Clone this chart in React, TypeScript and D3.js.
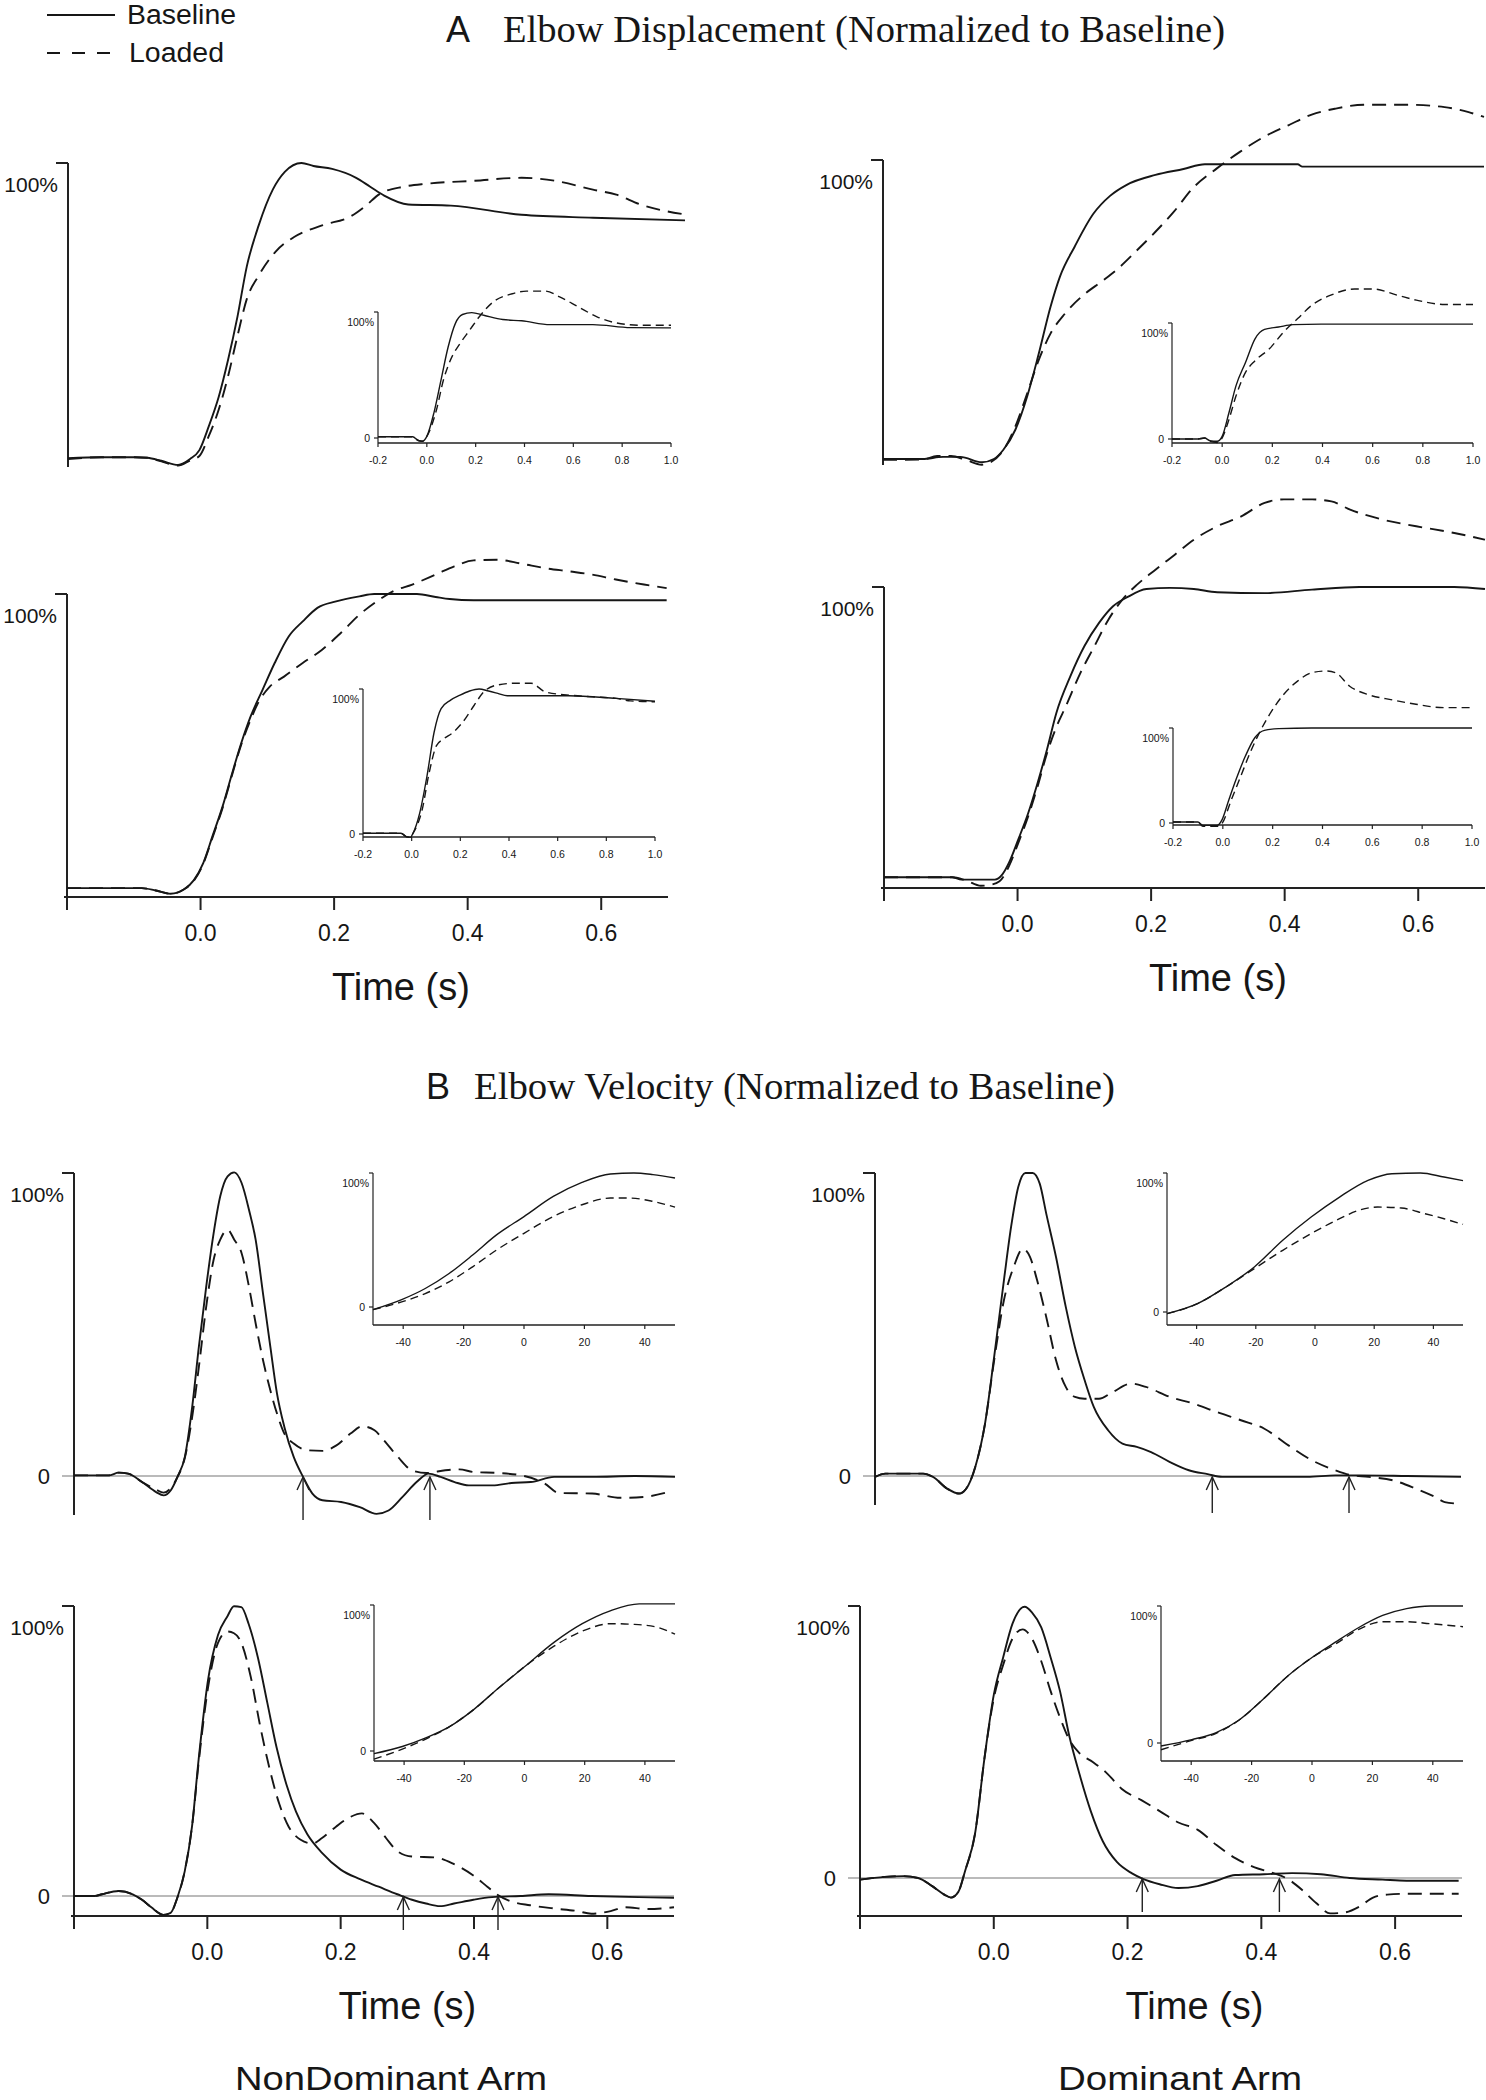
import React from 'react';
import * as d3 from 'd3';

type P = [number, number];

// ---------------- DATA ----------------
// Panel A, main (time s, fraction of baseline peak)
const TL_BASE: P[] = [[-0.2, 0.003], [-0.15, 0.006], [-0.1, 0.006], [-0.081, 0.004], [-0.06, -0.006], [-0.035, -0.02], [-0.017, 0.0], [-0.003, 0.03], [0.011, 0.11], [0.026, 0.21], [0.04, 0.335], [0.054, 0.48], [0.068, 0.65], [0.086, 0.79], [0.107, 0.91], [0.125, 0.97], [0.15, 1.0], [0.168, 0.99], [0.196, 0.98], [0.232, 0.95], [0.253, 0.92], [0.274, 0.89], [0.31, 0.86], [0.374, 0.856], [0.48, 0.825], [0.587, 0.815], [0.725, 0.806]];
const TL_LOAD: P[] = [[-0.2, 0.0], [-0.15, 0.006], [-0.1, 0.006], [-0.081, 0.004], [-0.06, -0.008], [-0.035, -0.022], [-0.017, -0.005], [-0.003, 0.01], [0.011, 0.077], [0.026, 0.167], [0.04, 0.28], [0.054, 0.415], [0.068, 0.54], [0.086, 0.62], [0.111, 0.7], [0.139, 0.75], [0.182, 0.79], [0.224, 0.82], [0.246, 0.855], [0.267, 0.895], [0.303, 0.92], [0.338, 0.93], [0.409, 0.94], [0.48, 0.95], [0.53, 0.94], [0.587, 0.91], [0.622, 0.893], [0.658, 0.86], [0.725, 0.826]];
const TR_BASE: P[] = [[-0.2, 0.0], [-0.141, 0.0], [-0.11, 0.007], [-0.084, 0.007], [-0.052, -0.011], [-0.034, 0.0], [-0.02, 0.03], [-0.002, 0.097], [0.016, 0.21], [0.033, 0.35], [0.051, 0.51], [0.065, 0.61], [0.087, 0.71], [0.115, 0.82], [0.14, 0.88], [0.165, 0.917], [0.208, 0.95], [0.25, 0.97], [0.282, 0.986], [0.421, 0.986], [0.428, 0.978], [0.7, 0.978]];
const TR_LOAD: P[] = [[-0.2, -0.003], [-0.141, -0.002], [-0.119, 0.01], [-0.098, 0.01], [-0.077, -0.002], [-0.052, -0.019], [-0.023, 0.02], [-0.002, 0.108], [0.016, 0.22], [0.033, 0.33], [0.051, 0.42], [0.072, 0.485], [0.101, 0.55], [0.129, 0.596], [0.151, 0.635], [0.179, 0.695], [0.208, 0.76], [0.236, 0.828], [0.264, 0.906], [0.3, 0.972], [0.335, 1.028], [0.371, 1.078], [0.407, 1.116], [0.442, 1.152], [0.478, 1.172], [0.52, 1.185], [0.584, 1.185], [0.641, 1.177], [0.677, 1.16], [0.7, 1.144]];
const BL_BASE: P[] = [[-0.2, 0.003], [-0.088, 0.003], [-0.067, -0.005], [-0.045, -0.016], [-0.024, 0.0], [-0.01, 0.03], [0.004, 0.088], [0.018, 0.18], [0.033, 0.28], [0.047, 0.39], [0.061, 0.495], [0.075, 0.585], [0.093, 0.676], [0.111, 0.766], [0.132, 0.856], [0.153, 0.907], [0.175, 0.953], [0.203, 0.975], [0.238, 0.992], [0.26, 1.0], [0.324, 1.0], [0.352, 0.99], [0.373, 0.983], [0.409, 0.979], [0.698, 0.979]];
const BL_LOAD: P[] = [[-0.2, 0.003], [-0.088, 0.003], [-0.067, -0.005], [-0.045, -0.016], [-0.024, 0.0], [-0.01, 0.028], [0.004, 0.085], [0.018, 0.175], [0.033, 0.275], [0.047, 0.385], [0.061, 0.49], [0.075, 0.574], [0.086, 0.63], [0.104, 0.687], [0.125, 0.72], [0.153, 0.766], [0.182, 0.811], [0.21, 0.868], [0.238, 0.93], [0.267, 0.98], [0.288, 1.009], [0.317, 1.032], [0.352, 1.066], [0.38, 1.094], [0.409, 1.114], [0.444, 1.116], [0.48, 1.103], [0.515, 1.088], [0.551, 1.077], [0.586, 1.066], [0.622, 1.049], [0.664, 1.032], [0.698, 1.02]];
const BR_BASE: P[] = [[-0.2, 0.006], [-0.098, 0.006], [-0.084, -0.002], [-0.034, -0.002], [-0.023, 0.015], [-0.013, 0.055], [0.001, 0.135], [0.016, 0.226], [0.03, 0.329], [0.044, 0.443], [0.058, 0.568], [0.079, 0.694], [0.1, 0.797], [0.122, 0.877], [0.143, 0.934], [0.165, 0.966], [0.193, 0.993], [0.228, 0.997], [0.264, 0.993], [0.299, 0.982], [0.37, 0.979], [0.441, 0.991], [0.512, 1.0], [0.654, 1.0], [0.7, 0.993]];
const BR_LOAD: P[] = [[-0.2, 0.006], [-0.098, 0.006], [-0.077, -0.005], [-0.055, -0.023], [-0.041, -0.02], [-0.027, -0.008], [-0.013, 0.043], [0.001, 0.123], [0.016, 0.215], [0.03, 0.317], [0.044, 0.43], [0.058, 0.52], [0.072, 0.59], [0.094, 0.705], [0.115, 0.797], [0.136, 0.888], [0.157, 0.957], [0.179, 1.008], [0.207, 1.06], [0.235, 1.11], [0.264, 1.162], [0.299, 1.208], [0.335, 1.242], [0.37, 1.288], [0.399, 1.3], [0.441, 1.3], [0.47, 1.293], [0.498, 1.265], [0.548, 1.23], [0.597, 1.208], [0.654, 1.185], [0.7, 1.162]];

// Panel A, insets (time s, fraction)
const TLI_BASE: P[] = [[-0.2, 0.01], [-0.1, 0.01], [-0.058, 0.01], [-0.035, -0.02], [-0.019, -0.026], [0.0, 0.013], [0.029, 0.2], [0.058, 0.46], [0.087, 0.72], [0.117, 0.91], [0.146, 0.98], [0.184, 0.995], [0.233, 0.974], [0.311, 0.94], [0.388, 0.93], [0.505, 0.9], [0.68, 0.9], [0.835, 0.876], [1.0, 0.874]];
const TLI_LOAD: P[] = [[-0.2, 0.01], [-0.1, 0.01], [-0.058, 0.01], [-0.035, -0.02], [-0.019, -0.026], [0.0, 0.013], [0.039, 0.22], [0.068, 0.46], [0.097, 0.62], [0.136, 0.75], [0.175, 0.855], [0.214, 0.96], [0.272, 1.08], [0.35, 1.145], [0.408, 1.166], [0.485, 1.166], [0.544, 1.12], [0.621, 1.04], [0.699, 0.96], [0.777, 0.913], [0.874, 0.895], [1.0, 0.895]];
const TRI_BASE: P[] = [[-0.2, 0.0], [-0.096, 0.0], [-0.07, 0.008], [-0.049, -0.015], [-0.02, -0.02], [0.0, 0.023], [0.027, 0.226], [0.055, 0.458], [0.093, 0.66], [0.131, 0.864], [0.169, 0.945], [0.225, 0.965], [0.282, 0.986], [0.395, 0.99], [1.0, 0.99]];
const TRI_LOAD: P[] = [[-0.2, 0.0], [-0.096, 0.0], [-0.07, 0.008], [-0.049, -0.02], [-0.02, -0.03], [0.0, 0.01], [0.027, 0.168], [0.055, 0.37], [0.093, 0.574], [0.131, 0.675], [0.188, 0.777], [0.244, 0.92], [0.301, 1.038], [0.358, 1.154], [0.433, 1.24], [0.528, 1.293], [0.603, 1.293], [0.698, 1.24], [0.774, 1.197], [0.887, 1.16], [1.0, 1.16]];
const BLI_BASE: P[] = [[-0.2, 0.005], [-0.044, 0.005], [-0.02, -0.02], [-0.005, -0.023], [0.004, 0.0], [0.033, 0.144], [0.063, 0.4], [0.092, 0.7], [0.121, 0.865], [0.16, 0.923], [0.199, 0.958], [0.238, 0.986], [0.277, 1.0], [0.316, 0.986], [0.354, 0.97], [0.393, 0.953], [0.646, 0.953], [0.84, 0.935], [1.0, 0.916]];
const BLI_LOAD: P[] = [[-0.2, 0.005], [-0.044, 0.005], [-0.02, -0.02], [-0.005, -0.023], [0.004, 0.0], [0.043, 0.167], [0.072, 0.423], [0.102, 0.61], [0.131, 0.656], [0.17, 0.7], [0.209, 0.77], [0.257, 0.888], [0.296, 0.98], [0.354, 1.028], [0.432, 1.04], [0.491, 1.04], [0.549, 0.98], [0.646, 0.958], [0.744, 0.946], [0.841, 0.935], [0.899, 0.918], [1.0, 0.912]];
const BRI_BASE: P[] = [[-0.2, 0.01], [-0.1, 0.01], [-0.08, -0.025], [-0.023, -0.025], [-0.004, 0.03], [0.024, 0.243], [0.053, 0.457], [0.091, 0.707], [0.129, 0.9], [0.167, 0.975], [0.224, 0.993], [0.357, 1.0], [1.0, 1.0]];
const BRI_LOAD: P[] = [[-0.2, 0.01], [-0.1, 0.01], [-0.08, -0.036], [-0.023, -0.036], [-0.004, -0.007], [0.034, 0.243], [0.072, 0.493], [0.11, 0.743], [0.148, 0.957], [0.186, 1.136], [0.243, 1.35], [0.3, 1.493], [0.357, 1.582], [0.414, 1.6], [0.452, 1.582], [0.509, 1.44], [0.585, 1.35], [0.68, 1.296], [0.775, 1.25], [0.889, 1.214], [1.0, 1.214]];

// Panel B, main velocity (time s, fraction of baseline peak)
const VL1_BASE: P[] = [[-0.2, 0.002], [-0.148, 0.002], [-0.133, 0.011], [-0.119, 0.008], [-0.098, -0.02], [-0.077, -0.053], [-0.066, -0.064], [-0.055, -0.047], [-0.045, -0.003], [-0.034, 0.063], [-0.023, 0.228], [-0.013, 0.427], [-0.002, 0.625], [0.009, 0.8], [0.019, 0.923], [0.03, 0.989], [0.04, 1.002], [0.051, 0.967], [0.062, 0.879], [0.072, 0.78], [0.083, 0.603], [0.094, 0.427], [0.104, 0.272], [0.115, 0.162], [0.129, 0.063], [0.143, -0.003], [0.157, -0.058], [0.172, -0.08], [0.2, -0.086], [0.228, -0.103], [0.253, -0.125], [0.271, -0.114], [0.292, -0.069], [0.313, -0.02], [0.331, 0.008], [0.349, -0.003], [0.37, -0.02], [0.391, -0.031], [0.427, -0.031], [0.455, -0.023], [0.484, -0.02], [0.519, -0.003], [0.576, -0.003], [0.64, 0.0], [0.7, -0.003]];
const VL1_LOAD: P[] = [[-0.2, 0.002], [-0.148, 0.002], [-0.133, 0.011], [-0.119, 0.008], [-0.098, -0.02], [-0.077, -0.045], [-0.066, -0.055], [-0.055, -0.04], [-0.045, -0.003], [-0.034, 0.06], [-0.023, 0.195], [-0.013, 0.36], [-0.002, 0.559], [0.009, 0.713], [0.019, 0.78], [0.03, 0.813], [0.04, 0.78], [0.051, 0.735], [0.062, 0.625], [0.072, 0.504], [0.083, 0.383], [0.094, 0.283], [0.104, 0.206], [0.115, 0.14], [0.129, 0.107], [0.15, 0.085], [0.172, 0.083], [0.193, 0.101], [0.214, 0.14], [0.232, 0.164], [0.25, 0.151], [0.264, 0.118], [0.285, 0.063], [0.306, 0.019], [0.328, 0.01], [0.356, 0.019], [0.377, 0.022], [0.399, 0.013], [0.434, 0.01], [0.47, 0.002], [0.505, -0.025], [0.526, -0.056], [0.576, -0.058], [0.618, -0.072], [0.654, -0.069], [0.69, -0.053]];
const VR1_BASE: P[] = [[-0.2, -0.003], [-0.184, 0.008], [-0.126, 0.008], [-0.111, -0.003], [-0.089, -0.042], [-0.071, -0.058], [-0.06, -0.042], [-0.046, 0.03], [-0.031, 0.173], [-0.017, 0.393], [-0.002, 0.646], [0.009, 0.822], [0.02, 0.954], [0.031, 1.0], [0.042, 1.0], [0.053, 0.965], [0.063, 0.866], [0.078, 0.723], [0.093, 0.558], [0.107, 0.426], [0.122, 0.316], [0.136, 0.228], [0.158, 0.151], [0.18, 0.107], [0.202, 0.096], [0.224, 0.079], [0.253, 0.046], [0.282, 0.019], [0.311, 0.006], [0.333, -0.003], [0.398, -0.003], [0.464, -0.003], [0.507, 0.002], [0.544, 0.002], [0.617, 0.0], [0.7, -0.003]];
const VR1_LOAD: P[] = [[-0.2, -0.003], [-0.184, 0.008], [-0.126, 0.008], [-0.111, -0.003], [-0.089, -0.042], [-0.071, -0.058], [-0.06, -0.042], [-0.046, 0.03], [-0.031, 0.173], [-0.017, 0.382], [-0.002, 0.58], [0.013, 0.69], [0.027, 0.75], [0.038, 0.723], [0.049, 0.646], [0.063, 0.525], [0.078, 0.382], [0.093, 0.294], [0.107, 0.261], [0.122, 0.255], [0.144, 0.255], [0.165, 0.277], [0.194, 0.305], [0.216, 0.294], [0.253, 0.261], [0.289, 0.239], [0.325, 0.211], [0.362, 0.184], [0.398, 0.156], [0.435, 0.101], [0.471, 0.052], [0.507, 0.019], [0.529, 0.004], [0.558, -0.003], [0.595, -0.014], [0.631, -0.042], [0.66, -0.069], [0.675, -0.086], [0.693, -0.091]];
const VL2_BASE: P[] = [[-0.2, 0.0], [-0.169, 0.0], [-0.158, 0.006], [-0.133, 0.017], [-0.112, 0.006], [-0.098, -0.013], [-0.084, -0.039], [-0.066, -0.065], [-0.055, -0.058], [-0.045, -0.006], [-0.034, 0.084], [-0.023, 0.239], [-0.013, 0.472], [0.001, 0.744], [0.016, 0.9], [0.03, 0.964], [0.04, 0.999], [0.051, 0.996], [0.062, 0.938], [0.076, 0.821], [0.09, 0.666], [0.104, 0.511], [0.119, 0.382], [0.133, 0.291], [0.15, 0.213], [0.172, 0.149], [0.2, 0.091], [0.229, 0.058], [0.257, 0.032], [0.285, 0.006], [0.307, -0.013], [0.328, -0.026], [0.349, -0.035], [0.37, -0.026], [0.399, -0.013], [0.427, -0.004], [0.47, 0.0], [0.512, 0.006], [0.576, 0.0], [0.647, -0.004], [0.7, -0.006]];
const VL2_LOAD: P[] = [[-0.2, 0.0], [-0.169, 0.0], [-0.158, 0.006], [-0.133, 0.017], [-0.112, 0.006], [-0.098, -0.013], [-0.084, -0.039], [-0.066, -0.065], [-0.055, -0.058], [-0.045, -0.006], [-0.034, 0.084], [-0.023, 0.239], [-0.013, 0.46], [0.001, 0.718], [0.016, 0.873], [0.03, 0.912], [0.04, 0.906], [0.051, 0.873], [0.065, 0.757], [0.079, 0.589], [0.094, 0.433], [0.108, 0.317], [0.122, 0.239], [0.14, 0.194], [0.158, 0.181], [0.172, 0.2], [0.193, 0.239], [0.214, 0.272], [0.232, 0.285], [0.25, 0.252], [0.268, 0.2], [0.285, 0.155], [0.307, 0.136], [0.342, 0.133], [0.37, 0.11], [0.399, 0.071], [0.42, 0.032], [0.434, 0.006], [0.456, -0.019], [0.484, -0.032], [0.52, -0.043], [0.555, -0.052], [0.576, -0.061], [0.605, -0.052], [0.626, -0.039], [0.661, -0.045], [0.7, -0.039]];
const VR2_BASE: P[] = [[-0.2, -0.006], [-0.163, 0.004], [-0.135, 0.007], [-0.113, 0.0], [-0.092, -0.03], [-0.074, -0.061], [-0.064, -0.072], [-0.053, -0.051], [-0.043, 0.025], [-0.028, 0.163], [-0.014, 0.439], [0.0, 0.673], [0.014, 0.811], [0.028, 0.935], [0.046, 0.997], [0.057, 0.977], [0.071, 0.921], [0.085, 0.811], [0.099, 0.687], [0.113, 0.521], [0.128, 0.383], [0.145, 0.246], [0.163, 0.135], [0.184, 0.059], [0.206, 0.018], [0.223, -0.003], [0.248, -0.023], [0.276, -0.037], [0.305, -0.03], [0.333, -0.01], [0.361, 0.011], [0.404, 0.014], [0.446, 0.018], [0.489, 0.014], [0.532, 0.0], [0.581, -0.006], [0.617, -0.01], [0.695, -0.01]];
const VR2_LOAD: P[] = [[-0.2, -0.006], [-0.163, 0.004], [-0.135, 0.007], [-0.113, 0.0], [-0.092, -0.03], [-0.074, -0.061], [-0.064, -0.072], [-0.053, -0.051], [-0.043, 0.025], [-0.028, 0.163], [-0.014, 0.439], [0.0, 0.66], [0.014, 0.783], [0.028, 0.88], [0.043, 0.914], [0.057, 0.88], [0.071, 0.797], [0.085, 0.687], [0.099, 0.59], [0.113, 0.508], [0.128, 0.459], [0.149, 0.425], [0.17, 0.383], [0.191, 0.328], [0.22, 0.287], [0.248, 0.246], [0.276, 0.204], [0.305, 0.177], [0.333, 0.121], [0.361, 0.073], [0.39, 0.039], [0.418, 0.018], [0.439, -0.003], [0.461, -0.044], [0.482, -0.092], [0.503, -0.13], [0.524, -0.127], [0.546, -0.106], [0.567, -0.072], [0.588, -0.061], [0.617, -0.058], [0.695, -0.058]];

// Panel B, insets (ms, fraction)
const VL1I_BASE: P[] = [[-50, -0.02], [-40.5, 0.055], [-32.7, 0.138], [-24.8, 0.25], [-17, 0.388], [-9.1, 0.538], [0, 0.675], [9.7, 0.825], [19.2, 0.93], [28.6, 0.993], [36.4, 1.0], [42.7, 0.988], [50, 0.963]];
const VL1I_LOAD: P[] = [[-50, -0.02], [-40.5, 0.038], [-32.7, 0.1], [-24.8, 0.188], [-17, 0.3], [-9.1, 0.425], [0, 0.55], [9.7, 0.675], [19.2, 0.763], [28.6, 0.813], [34.9, 0.813], [42.7, 0.788], [50, 0.745]];
const VR1I_BASE: P[] = [[-50, -0.012], [-39.7, 0.06], [-30.1, 0.18], [-20.5, 0.324], [-10.9, 0.516], [-1.3, 0.683], [8.3, 0.827], [17.9, 0.947], [26, 0.995], [35.6, 1.0], [43.6, 0.971], [50, 0.945]];
const VR1I_LOAD: P[] = [[-50, -0.012], [-39.7, 0.06], [-30.1, 0.18], [-20.5, 0.312], [-10.9, 0.444], [-1.3, 0.564], [8.3, 0.671], [14.7, 0.731], [21.2, 0.755], [29.2, 0.748], [37.2, 0.707], [43.6, 0.671], [50, 0.63]];
const VL2I_BASE: P[] = [[-50, -0.018], [-40.6, 0.031], [-32.8, 0.09], [-24.9, 0.167], [-17, 0.282], [-9.1, 0.423], [0, 0.577], [9.8, 0.744], [19.2, 0.872], [28.7, 0.962], [38.1, 1.008], [50, 1.008]];
const VL2I_LOAD: P[] = [[-50, -0.056], [-40.6, 0.013], [-32.8, 0.082], [-24.9, 0.167], [-17, 0.282], [-9.1, 0.423], [0, 0.577], [9.8, 0.718], [19.2, 0.821], [28.7, 0.872], [36.5, 0.867], [44.4, 0.846], [50, 0.8]];
const VR2I_BASE: P[] = [[-50, -0.022], [-39.8, 0.025], [-31.9, 0.074], [-24, 0.17], [-16.1, 0.321], [-8.2, 0.486], [0, 0.624], [7.6, 0.734], [15.5, 0.843], [23.4, 0.931], [31.3, 0.981], [39.2, 1.0], [50, 1.0]];
const VR2I_LOAD: P[] = [[-50, -0.049], [-39.8, 0.019], [-31.9, 0.069], [-24, 0.17], [-16.1, 0.321], [-8.2, 0.486], [0, 0.624], [7.6, 0.72], [15.5, 0.83], [23.4, 0.885], [31.3, 0.885], [39.2, 0.871], [50, 0.849]];

// Arrow markers (time s)
const VL1_ARROWS = [0.143, 0.333];
const VR1_ARROWS = [0.318, 0.528];
const VL2_ARROWS = [0.294, 0.436];
const VR2_ARROWS = [0.222, 0.427];

// Tick labels
const MAIN_TICKS = [-0.2, 0, 0.2, 0.4, 0.6];
const MAIN_TICK_LABELS = ['', '0.0', '0.2', '0.4', '0.6'];
const DISP_INSET_TICKS = [-0.2, 0, 0.2, 0.4, 0.6, 0.8, 1.0];
const DISP_INSET_LABELS = ['-0.2', '0.0', '0.2', '0.4', '0.6', '0.8', '1.0'];
const VEL_INSET_TICKS = [-40, -20, 0, 20, 40];
const VEL_INSET_LABELS = ['-40', '-20', '0', '20', '40'];

// ---------------- LAYOUT ----------------
const SANS = 'Liberation Sans, Arial, Helvetica, sans-serif';
const SERIF = 'Liberation Serif, Times New Roman, serif';
const INK = '#161616';

type MainCfg = {
  x0: number; x1: number; tEnd: number; yZero: number; yTop: number; axisBottom: number;
  xAxisY?: number; zeroLine?: boolean; arrows?: number[]; arrowBottom?: number;
};
type InsetCfg = {
  x0: number; x1: number; dom: [number, number]; yZero: number; yTop: number; xAxisY: number;
  ticks: number[]; labels: string[];
};

function Curves({ xs, ys, base, load, w, dash }: any) {
  const line = d3.line<P>().x(d => xs(d[0])).y(d => ys(d[1])).curve(d3.curveMonotoneX);
  return (
    <g fill="none" stroke={INK} strokeLinejoin="round">
      <path d={line(base) || ''} strokeWidth={w} />
      <path d={line(load) || ''} strokeWidth={w} strokeDasharray={dash} />
    </g>
  );
}

function MainPanel({ cfg, base, load }: { cfg: MainCfg; base: P[]; load: P[] }) {
  const xs = d3.scaleLinear().domain([-0.2, cfg.tEnd]).range([cfg.x0, cfg.x1]);
  const ys = d3.scaleLinear().domain([0, 1]).range([cfg.yZero, cfg.yTop]);
  return (
    <g>
      {cfg.zeroLine && (
        <g>
          <line x1={cfg.x0 - 12} x2={cfg.x1} y1={ys(0)} y2={ys(0)} stroke="#777" strokeWidth={1.1} />
          <text x={cfg.x0 - 24} y={ys(0) + 8} textAnchor="end" fontFamily={SANS} fontSize={22} fill={INK}>0</text>
        </g>
      )}
      <line x1={cfg.x0} x2={cfg.x0} y1={ys(1)} y2={cfg.axisBottom} stroke="#222" strokeWidth={2} />
      <line x1={cfg.x0 - 12} x2={cfg.x0} y1={ys(1)} y2={ys(1)} stroke="#222" strokeWidth={2} />
      <text x={cfg.x0 - 10} y={ys(1) + 29} textAnchor="end" fontFamily={SANS} fontSize={21} fill={INK}>100%</text>
      {cfg.xAxisY !== undefined && (
        <g>
          <line x1={cfg.x0 - 3} x2={cfg.x1} y1={cfg.xAxisY} y2={cfg.xAxisY} stroke="#222" strokeWidth={2} />
          {MAIN_TICKS.map((t, i) => (
            <g key={i}>
              <line x1={xs(t)} x2={xs(t)} y1={cfg.xAxisY} y2={cfg.xAxisY! + 13} stroke="#222" strokeWidth={2} />
              <text x={xs(t)} y={cfg.xAxisY! + 44} textAnchor="middle" fontFamily={SANS} fontSize={23} fill={INK}>{MAIN_TICK_LABELS[i]}</text>
            </g>
          ))}
          <text x={xs(0.3)} y={cfg.xAxisY! + 103} textAnchor="middle" fontFamily={SANS} fontSize={38} fill={INK}>Time (s)</text>
        </g>
      )}
      <Curves xs={xs} ys={ys} base={base} load={load} w={1.9} dash="14 8" />
      {(cfg.arrows || []).map((t, i) => (
        <g key={i} fill="none" stroke="#222" strokeWidth={1.4}>
          <line x1={xs(t)} x2={xs(t)} y1={cfg.arrowBottom} y2={ys(0) + 1} />
          <polyline points={`${xs(t) - 6},${ys(0) + 14} ${xs(t)},${ys(0) + 1} ${xs(t) + 6},${ys(0) + 14}`} />
        </g>
      ))}
    </g>
  );
}

function Inset({ cfg, base, load }: { cfg: InsetCfg; base: P[]; load: P[] }) {
  const xs = d3.scaleLinear().domain(cfg.dom).range([cfg.x0, cfg.x1]);
  const ys = d3.scaleLinear().domain([0, 1]).range([cfg.yZero, cfg.yTop]);
  return (
    <g>
      <line x1={cfg.x0} x2={cfg.x0} y1={ys(1)} y2={cfg.xAxisY} stroke="#222" strokeWidth={1.2} />
      <line x1={cfg.x0 - 4} x2={cfg.x0} y1={ys(1)} y2={ys(1)} stroke="#222" strokeWidth={1.2} />
      <line x1={cfg.x0 - 4} x2={cfg.x0} y1={ys(0)} y2={ys(0)} stroke="#222" strokeWidth={1.2} />
      <line x1={cfg.x0} x2={cfg.x1} y1={cfg.xAxisY} y2={cfg.xAxisY} stroke="#222" strokeWidth={1.3} />
      {cfg.ticks.map((t, i) => (
        <g key={i}>
          <line x1={xs(t)} x2={xs(t)} y1={cfg.xAxisY} y2={cfg.xAxisY + 4} stroke="#222" strokeWidth={1.2} />
          <text x={xs(t)} y={cfg.xAxisY + 21} textAnchor="middle" fontFamily={SANS} fontSize={10.5} fill={INK}>{cfg.labels[i]}</text>
        </g>
      ))}
      <text x={cfg.x0 - 4} y={ys(1) + 14} textAnchor="end" fontFamily={SANS} fontSize={10.5} fill={INK}>100%</text>
      <text x={cfg.x0 - 8} y={ys(0) + 4} textAnchor="end" fontFamily={SANS} fontSize={10.5} fill={INK}>0</text>
      <Curves xs={xs} ys={ys} base={base} load={load} w={1.4} dash="8 5" />
    </g>
  );
}

const TL: MainCfg = { x0: 68, x1: 685, tEnd: 0.725, yZero: 459, yTop: 163, axisBottom: 467 };
const TR: MainCfg = { x0: 883, x1: 1484, tEnd: 0.7, yZero: 459, yTop: 160, axisBottom: 465 };
const BL: MainCfg = { x0: 67, x1: 668, tEnd: 0.7, yZero: 889, yTop: 594, axisBottom: 897, xAxisY: 897 };
const BR: MainCfg = { x0: 884, x1: 1485, tEnd: 0.7, yZero: 879, yTop: 587, axisBottom: 888, xAxisY: 888 };
const VL1: MainCfg = { x0: 74, x1: 675, tEnd: 0.7, yZero: 1476, yTop: 1173, axisBottom: 1515, zeroLine: true, arrows: VL1_ARROWS, arrowBottom: 1520 };
const VR1: MainCfg = { x0: 875, x1: 1461, tEnd: 0.7, yZero: 1476, yTop: 1173, axisBottom: 1505, zeroLine: true, arrows: VR1_ARROWS, arrowBottom: 1513 };
const VL2: MainCfg = { x0: 74, x1: 674, tEnd: 0.7, yZero: 1896, yTop: 1606, axisBottom: 1916, xAxisY: 1916, zeroLine: true, arrows: VL2_ARROWS, arrowBottom: 1930 };
const VR2: MainCfg = { x0: 860, x1: 1462, tEnd: 0.7, yZero: 1878, yTop: 1606, axisBottom: 1916, xAxisY: 1916, zeroLine: true, arrows: VR2_ARROWS, arrowBottom: 1912 };

const DI = { dom: [-0.2, 1.0] as [number, number], ticks: DISP_INSET_TICKS, labels: DISP_INSET_LABELS };
const VI = { dom: [-50, 50] as [number, number], ticks: VEL_INSET_TICKS, labels: VEL_INSET_LABELS };
const TLI: InsetCfg = { ...DI, x0: 378, x1: 671, yZero: 438, yTop: 312, xAxisY: 443 };
const TRI: InsetCfg = { ...DI, x0: 1172, x1: 1473, yZero: 439, yTop: 323, xAxisY: 443 };
const BLI: InsetCfg = { ...DI, x0: 363, x1: 655, yZero: 834, yTop: 689, xAxisY: 837 };
const BRI: InsetCfg = { ...DI, x0: 1173, x1: 1472, yZero: 823, yTop: 728, xAxisY: 825 };
const VL1I: InsetCfg = { ...VI, x0: 373, x1: 675, yZero: 1307, yTop: 1173, xAxisY: 1325 };
const VR1I: InsetCfg = { ...VI, x0: 1167, x1: 1463, yZero: 1312, yTop: 1173, xAxisY: 1325 };
const VL2I: InsetCfg = { ...VI, x0: 374, x1: 675, yZero: 1751, yTop: 1605, xAxisY: 1761 };
const VR2I: InsetCfg = { ...VI, x0: 1161, x1: 1463, yZero: 1743, yTop: 1606, xAxisY: 1761 };

export default function App() {
  return (
    <div style={{ position: 'absolute', left: 0, top: 0, width: 1486, height: 2100, overflow: 'hidden', background: '#fff' }}>
      <svg width={1486} height={2100} style={{ display: 'block' }}>
        <rect x={0} y={0} width={1486} height={2100} fill="#fff" />
        {/* legend */}
        <line x1={47} x2={115} y1={15} y2={15} stroke={INK} strokeWidth={2} />
        <text x={127} y={24} fontFamily={SANS} fontSize={27} fill={INK} textLength={109} lengthAdjust="spacingAndGlyphs">Baseline</text>
        <line x1={47} x2={112} y1={53} y2={53} stroke={INK} strokeWidth={2} strokeDasharray="13 12" />
        <text x={129} y={62} fontFamily={SANS} fontSize={27} fill={INK} textLength={95} lengthAdjust="spacingAndGlyphs">Loaded</text>
        {/* titles */}
        <text x={446} y={42} fontFamily={SANS} fontSize={36} fill={INK}>A</text>
        <text x={503} y={42} fontFamily={SERIF} fontSize={38} fill={INK} textLength={722} lengthAdjust="spacingAndGlyphs">Elbow Displacement (Normalized to Baseline)</text>
        <text x={426} y={1099} fontFamily={SANS} fontSize={36} fill={INK}>B</text>
        <text x={474} y={1099} fontFamily={SERIF} fontSize={38} fill={INK} textLength={641} lengthAdjust="spacingAndGlyphs">Elbow Velocity (Normalized to Baseline)</text>

        <MainPanel cfg={TL} base={TL_BASE} load={TL_LOAD} />
        <Inset cfg={TLI} base={TLI_BASE} load={TLI_LOAD} />
        <MainPanel cfg={TR} base={TR_BASE} load={TR_LOAD} />
        <Inset cfg={TRI} base={TRI_BASE} load={TRI_LOAD} />
        <MainPanel cfg={BL} base={BL_BASE} load={BL_LOAD} />
        <Inset cfg={BLI} base={BLI_BASE} load={BLI_LOAD} />
        <MainPanel cfg={BR} base={BR_BASE} load={BR_LOAD} />
        <Inset cfg={BRI} base={BRI_BASE} load={BRI_LOAD} />

        <MainPanel cfg={VL1} base={VL1_BASE} load={VL1_LOAD} />
        <Inset cfg={VL1I} base={VL1I_BASE} load={VL1I_LOAD} />
        <MainPanel cfg={VR1} base={VR1_BASE} load={VR1_LOAD} />
        <Inset cfg={VR1I} base={VR1I_BASE} load={VR1I_LOAD} />
        <MainPanel cfg={VL2} base={VL2_BASE} load={VL2_LOAD} />
        <Inset cfg={VL2I} base={VL2I_BASE} load={VL2I_LOAD} />
        <MainPanel cfg={VR2} base={VR2_BASE} load={VR2_LOAD} />
        <Inset cfg={VR2I} base={VR2I_BASE} load={VR2I_LOAD} />

        <text x={391} y={2090} textAnchor="middle" fontFamily={SANS} fontSize={34} fill={INK} textLength={312} lengthAdjust="spacingAndGlyphs">NonDominant Arm</text>
        <text x={1180} y={2090} textAnchor="middle" fontFamily={SANS} fontSize={34} fill={INK} textLength={244} lengthAdjust="spacingAndGlyphs">Dominant Arm</text>
      </svg>
    </div>
  );
}
